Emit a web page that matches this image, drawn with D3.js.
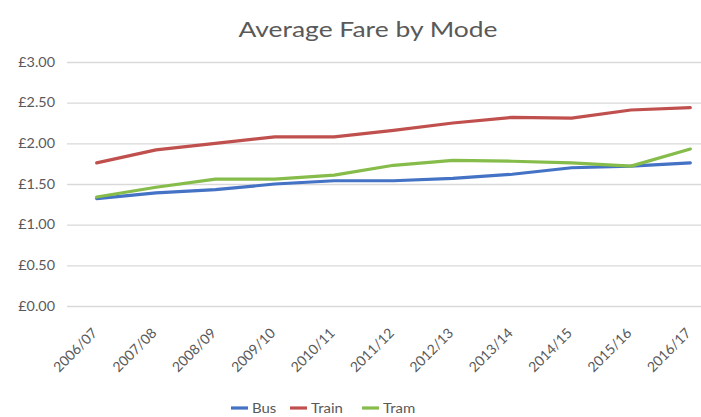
<!DOCTYPE html>
<html>
<head>
<meta charset="utf-8">
<script src="https://cdn.jsdelivr.net/npm/d3@7"></script>
<style>
	body { margin: 0; background: #fff; }
	text { font-family: Lato, "Open Sans", "Liberation Sans", sans-serif; fill: #595959; }
</style>
</head>
<body>
<div id="chart"></div>
<script>
// years on the x axis
var years = ["2006/07", "2007/08", "2008/09", "2009/10", "2010/11", "2011/12",
	"2012/13", "2013/14", "2014/15", "2015/16", "2016/17"];
// average fare per mode, in pounds
var bus = [1.32, 1.39, 1.43, 1.50, 1.54, 1.54, 1.57, 1.62, 1.70, 1.72, 1.76];
var train = [1.76, 1.92, 2.00, 2.08, 2.08, 2.16, 2.25, 2.32, 2.31, 2.41, 2.44];
var tram = [1.34, 1.46, 1.56, 1.56, 1.61, 1.73, 1.79, 1.78, 1.76, 1.72, 1.93];
var seriesNames = ["Bus", "Train", "Tram"];
var yTicks = [0, 0.5, 1, 1.5, 2, 2.5, 3];

var lineColor = ["#4472c4", "#c0504d", "#86bc4a"];
var dataset = [bus, train, tram];

var w = 701, h = 417;
var padLeft = 67, padRight = 720, padTop = 62, padBottom = 306;

var svg = d3.select("#chart")
	.append("svg")
	.attr("width", w)
	.attr("height", h);

// title (text in the picture is rather wide, so stretch it a bit)
svg.append("text")
	.attr("transform", "translate(368,37) scale(1.26,1)")
	.attr("text-anchor", "middle")
	.style("font-size", "21px")
	.text("Average Fare by Mode");

// x is a category axis, points sit in the middle of each band
var xScale = d3.scalePoint()
	.domain(years)
	.range([padLeft, padRight])
	.padding(0.5);

var yScale = d3.scaleLinear()
	.domain([0, 3])
	.range([padBottom, padTop]);

// horizontal grid lines
svg.append("g")
	.attr("transform", "translate(" + padLeft + ",0)")
	.call(d3.axisLeft(yScale).tickValues(yTicks).tickSize(-(padRight - padLeft)).tickFormat(""))
	.call(function(g) { g.select(".domain").remove(); })
	.selectAll("line")
	.attr("stroke", "#d9d9d9")
	.attr("stroke-width", 1.3);

// y labels
var yAxis = svg.append("g")
	.attr("transform", "translate(" + padLeft + ",0)")
	.call(d3.axisLeft(yScale).tickValues(yTicks).tickSize(0)
		.tickFormat(function(d) { return "£" + d.toFixed(2); }));
yAxis.select(".domain").remove();
yAxis.selectAll("text")
	.style("font-size", "12.5px")
	.style("font-family", "Lato, 'Open Sans', sans-serif")
	.attr("fill", "#666")
	.attr("x", 0)
	.attr("transform", "translate(-12,0) scale(1.15,1)");

// x labels, rotated
var xAxis = svg.append("g")
	.attr("transform", "translate(0," + padBottom + ")")
	.call(d3.axisBottom(xScale).tickSize(0));
xAxis.select(".domain").remove();
xAxis.selectAll("text")
	.style("font-size", "14px")
	.style("font-family", "Lato, 'Open Sans', sans-serif")
	.attr("fill", "#666")
	.attr("text-anchor", "end")
	.attr("y", 0)
	.attr("dy", 0)
	.attr("transform", "translate(1,28) rotate(-45)");

// lines
var line = d3.line()
	.x(function(d, i) { return xScale(years[i]); })
	.y(function(d) { return yScale(d); });

dataset.forEach(function(arr, i) {
	svg.append("path")
		.attr("d", line(arr))
		.attr("fill", "none")
		.attr("stroke", lineColor[i])
		.attr("stroke-width", 3.2)
		.attr("stroke-linejoin", "round")
		.attr("stroke-linecap", "round");
});

// legend
var legendX = [231, 290, 362];
var legend = svg.append("g").attr("transform", "translate(0,408)");
seriesNames.forEach(function(name, i) {
	legend.append("line")
		.attr("x1", legendX[i])
		.attr("x2", legendX[i] + 17)
		.attr("y1", 0)
		.attr("y2", 0)
		.attr("stroke", lineColor[i])
		.attr("stroke-width", 3.2);
	legend.append("text")
		.attr("transform", "translate(" + (legendX[i] + 21) + ",4.5) scale(1.15,1)")
		.style("font-size", "13px")
		.attr("fill", "#666")
		.text(name);
});
</script>
</body>
</html>
